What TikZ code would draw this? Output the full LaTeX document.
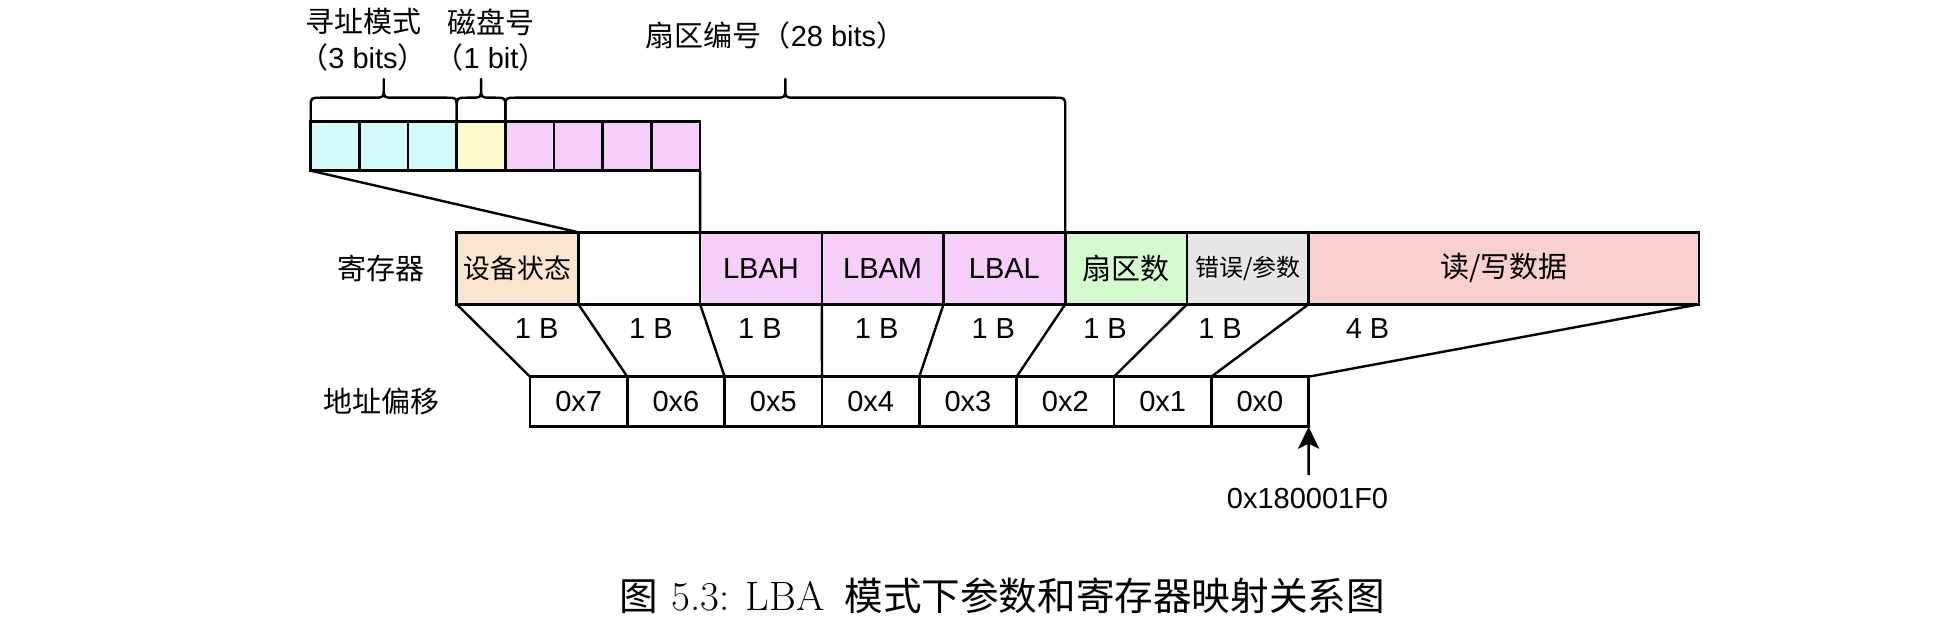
\documentclass[tikz,border=0pt]{standalone}
\usepackage{fontspec}
\newfontfamily\lsans{Liberation Sans}
\newfontfamily\cjk{Noto Sans CJK SC}
\usetikzlibrary{arrows.meta,calc}

\definecolor{bitcyan}{RGB}{212,250,250}
\definecolor{bityellow}{RGB}{255,253,208}
\definecolor{lilac}{RGB}{246,206,250}
\definecolor{peach}{RGB}{251,229,206}
\definecolor{mint}{RGB}{214,250,208}
\definecolor{greybox}{RGB}{230,230,230}
\definecolor{rose}{RGB}{248,206,206}

\newcommand\mybrace[4]{%
  \draw[link] #3 -- (#1,107.7) .. controls (#1,97.7) .. ({#1+10},97.7)
    -- ({(#1+#2)/2-10},97.7) .. controls ({(#1+#2)/2},97.7) .. ({(#1+#2)/2},88)
    -- ({(#1+#2)/2},79) -- ({(#1+#2)/2},88)
    .. controls ({(#1+#2)/2},97.7) .. ({(#1+#2)/2+10},97.7)
    -- ({#2-10},97.7) .. controls (#2,97.7) .. (#2,107.7) -- #4;}

\begin{document}
\begin{tikzpicture}[x=0.5pt,y=-0.5pt,
  every node/.style={font=\lsans\fontsize{14.5}{17.8}\selectfont, inner sep=0pt, outer sep=0pt},
  cell/.style={draw, line width=1.3pt, anchor=north west},
  regcell/.style={cell, minimum width=60.85pt, minimum height=36pt},
  addrcell/.style={cell, fill=white, minimum width=48.66pt, minimum height=25pt},
  bitcell/.style={cell, minimum width=24.34pt, minimum height=24.5pt},
  link/.style={line width=1.2pt, line join=round}
]
\fill[white] (0,0) rectangle (1952,620);
\useasboundingbox (0,0) rectangle (1952,620);

% bit cells
\node[bitcell, fill=bitcyan]   (b1) at (310.7,121.7) {};
\node[bitcell, fill=bitcyan]   (b2) at (359.375,121.7) {};
\node[bitcell, fill=bitcyan]   (b3) at (408.05,121.7) {};
\node[bitcell, fill=bityellow] (b4) at (456.725,121.7) {};
\node[bitcell, fill=lilac]     (b5) at (505.4,121.7) {};
\node[bitcell, fill=lilac]     (b6) at (554.075,121.7) {};
\node[bitcell, fill=lilac]     (b7) at (602.75,121.7) {};
\node[bitcell, fill=lilac]     (b8) at (651.425,121.7) {};

% registers
\node[regcell, fill=peach] (r1) at (456.7,232.3) {\cjk\fontsize{13.4}{16}\selectfont 设备状态};
\node[regcell, fill=white] (r2) at (578.4,232.3) {};
\node[regcell, fill=lilac] (r3) at (700.1,232.3) {LBAH};
\node[regcell, fill=lilac] (r4) at (821.8,232.3) {LBAM};
\node[regcell, fill=lilac] (r5) at (943.5,232.3) {LBAL};
\node[regcell, fill=mint]  (r6) at (1065.2,232.3) {\cjk 扇区数};
\node[regcell, fill=greybox] (r7) at (1186.9,232.3) {\cjk\fontsize{12}{14}\selectfont 错误/参数};
\node[regcell, fill=rose, minimum width=195.2pt] (r8) at (1308.6,232.3) {\cjk 读/写数据};

% address offsets
\node[addrcell] (a1) at (530,376.7) {0x7};
\node[addrcell] (a2) at (627.325,376.7) {0x6};
\node[addrcell] (a3) at (724.65,376.7) {0x5};
\node[addrcell] (a4) at (821.975,376.7) {0x4};
\node[addrcell] (a5) at (919.3,376.7) {0x3};
\node[addrcell] (a6) at (1016.625,376.7) {0x2};
\node[addrcell] (a7) at (1113.95,376.7) {0x1};
\node[addrcell] (a8) at (1211.275,376.7) {0x0};

% row labels
\node (lreg) at (381.4,268.3) {\cjk 寄存器};
\node (lofs) at (381.4,401.7) {\cjk 地址偏移};

% top labels
\node[align=center] (lmode) at (363,40) {{\cjk 寻址模式}\\{\cjk （}3 bits{\cjk ）}};
\node[align=center] (ldisk) at (491,40) {{\cjk 磁盘号}\\{\cjk （}1 bit{\cjk ）}};
\node (lsect) at (775.5,35) {{\cjk 扇区编号（}28 bits{\cjk ）}};

% byte size labels
\node (s1) at (536.7,328.3) {1 B};
\node (s2) at (651,328.3) {1 B};
\node (s3) at (760,328.3) {1 B};
\node (s4) at (876.7,328.3) {1 B};
\node (s5) at (993.3,328.3) {1 B};
\node (s6) at (1105,328.3) {1 B};
\node (s7) at (1220,328.3) {1 B};
\node (s8) at (1367.5,328.3) {4 B};

% braces
\mybrace{310.7}{456.725}{(b1.north west)}{(b3.north east)}
\mybrace{456.725}{505.4}{(b4.north west)}{(b4.north east)}
\mybrace{505.4}{1065.2}{(b5.north west)}{(r5.north east)}

% bits to registers
\draw[link] (b1.south west) -- (r1.north east);
\draw[link] (b8.south east) -- (r3.north west);

% registers to offsets
\draw[link] (r1.south west) -- (a1.north west);
\draw[link] (r2.south west) -- (a2.north west);
\draw[link] (r3.south west) -- (a3.north west);
\draw[link] (r4.south west) -- (a4.north west);
\draw[link] (r5.south west) -- (a5.north west);
\draw[link] (r6.south west) -- (a6.north west);
\draw[link] (r7.south west) -- (a7.north west);
\draw[link] (r8.south west) -- (a8.north west);
\draw[link] (r8.south east) -- (a8.north east);

% base address arrow
\node (base) at (1307.5,498.8) {0x180001F0};
\coordinate (tail) at (1308.6,475);
\draw[link, -{Stealth[length=11pt, width=10.5pt, inset=2.5pt]}] (tail) -- (a8.south east);

% caption
\node[anchor=base west] (cap) at (619,610) {{\cjk\fontsize{19.3}{23}\selectfont 图}\hspace{7pt}{\rmfamily\fontsize{20.5}{24}\selectfont 5.3:\hspace{8pt}LBA}\hspace{10pt}{\cjk\fontsize{19.3}{23}\selectfont 模式下参数和寄存器映射关系图}};
\end{tikzpicture}
\end{document}
